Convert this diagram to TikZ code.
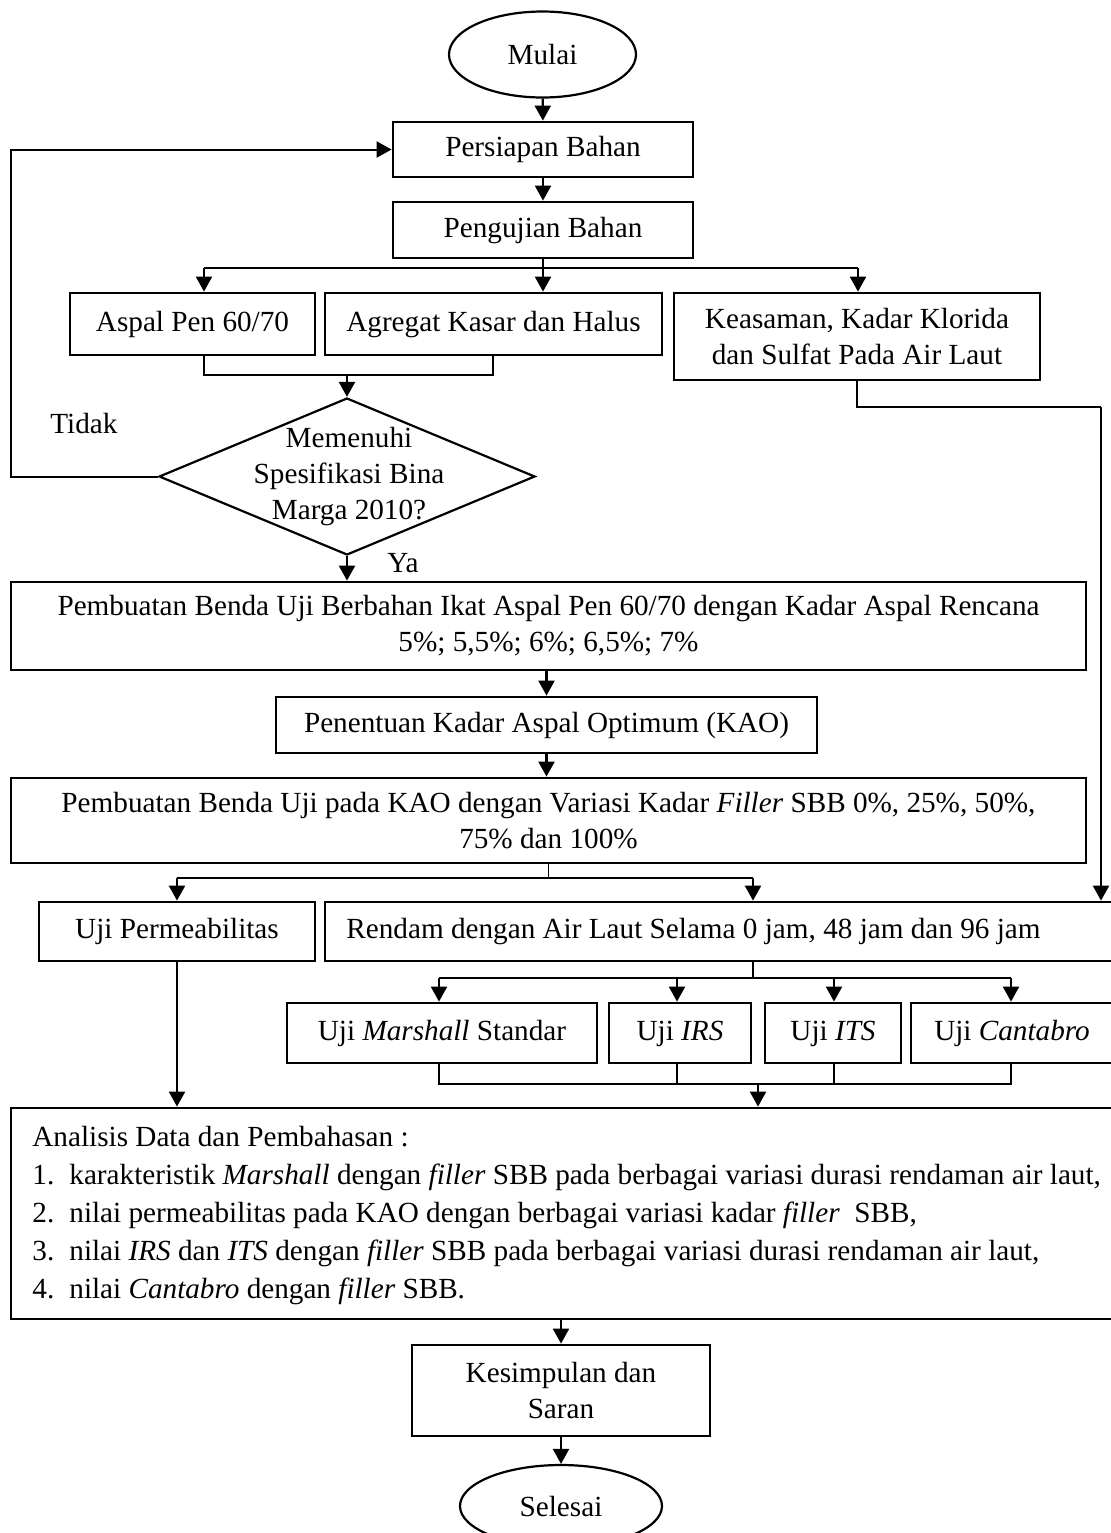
\documentclass[tikz,border=0pt]{standalone}
\usepackage{fontspec}
\setmainfont{Liberation Serif}
\usetikzlibrary{arrows.meta,shapes.geometric}
\begin{document}
\begin{tikzpicture}[x=0.5pt,y=-0.5pt,
  font=\fontsize{14.6}{18}\selectfont,
  bx/.style={draw, line width=1.4pt, inner sep=0pt, align=center},
  sbx/.style={bx, text height=10.2pt, text depth=3.2pt},
  ell/.style={draw, ellipse, line width=1.1pt, inner sep=0pt},
  arr/.style={line width=1.1pt, -{Triangle[length=7.5pt,width=8pt]}},
  hline/.style={line width=0.6pt},
  lbl/.style={inner sep=0pt, anchor=base west}
]
\fill[white] (0,0) rectangle (1111,1533);
\useasboundingbox (0,0) rectangle (1111,1533);

% nodes
\node[ell, minimum width=93.5pt, minimum height=43pt] (mulai) at (542.5,54.5) {Mulai};
\node[sbx, minimum width=150pt, minimum height=27.5pt] (persiapan) at (543,149.5) {Persiapan Bahan};
\node[sbx, minimum width=150pt, minimum height=28pt] (pengujian) at (543,230) {Pengujian Bahan};
\node[sbx, minimum width=122.5pt, minimum height=31pt] (aspal) at (192.5,324) {Aspal Pen 60/70};
\node[sbx, minimum width=168.5pt, minimum height=31pt] (agregat) at (493.5,324) {Agregat Kasar dan Halus};
\node[bx, minimum width=183pt, minimum height=43.5pt] (keasaman) at (857,336.5) {Keasaman, Kadar Klorida\\dan Sulfat Pada Air Laut};
\node[draw, diamond, line width=1.1pt, inner sep=0pt, minimum width=188pt, minimum height=78.5pt] (dia) at (347,476.5) {};
\node[inner sep=0pt, align=center] (diatext) at (349,477) {Memenuhi\\Spesifikasi Bina\\Marga 2010?};
\node[lbl] (tidak) at (50,433) {Tidak};
\node[lbl] (ya) at (387,572) {Ya};
\node[bx, minimum width=537.5pt, minimum height=44pt] (pemb1) at (548.5,626) {Pembuatan Benda Uji Berbahan Ikat Aspal Pen 60/70 dengan Kadar Aspal Rencana\\5\%; 5,5\%; 6\%; 6,5\%; 7\%};
\node[sbx, minimum width=270.5pt, minimum height=28pt] (penentuan) at (546.5,725) {Penentuan Kadar Aspal Optimum (KAO)};
\node[bx, minimum width=537.5pt, minimum height=42.5pt] (pemb2) at (548.5,820.5) {Pembuatan Benda Uji pada KAO dengan Variasi Kadar \textit{Filler} SBB 0\%, 25\%, 50\%,\\75\% dan 100\%};
\node[sbx, minimum width=138pt, minimum height=29.5pt] (ujiperm) at (177,931.5) {Uji Permeabilitas};
\node[bx, minimum width=394pt, minimum height=29.5pt] (rendam) at (719,931.5) {};
\node[lbl] (rendamtext) at (346,938) {Rendam dengan Air Laut Selama 0 jam, 48 jam dan 96 jam};
\node[sbx, minimum width=155pt, minimum height=30pt] (marshall) at (442,1033) {Uji \textit{Marshall} Standar};
\node[sbx, minimum width=71pt, minimum height=30pt] (irs) at (680,1033) {Uji \textit{IRS}};
\node[sbx, minimum width=68pt, minimum height=30pt] (its) at (833,1033) {Uji \textit{ITS}};
\node[sbx, minimum width=101pt, minimum height=30pt] (cantabro) at (1012,1033) {Uji \textit{Cantabro}};
\node[bx, minimum width=551.5pt, minimum height=105.5pt] (analisis) at (562.5,1213.5) {};
\node[lbl] (an0) at (32,1146) {Analisis Data dan Pembahasan :};
\node[lbl] (n1) at (32,1184) {1.};
\node[lbl] (t1) at (69,1184) {karakteristik \textit{Marshall} dengan \textit{filler} SBB pada berbagai variasi durasi rendaman air laut,};
\node[lbl] (n2) at (32,1222) {2.};
\node[lbl] (t2) at (69,1222) {nilai permeabilitas pada KAO dengan berbagai variasi kadar \textit{filler}~ SBB,};
\node[lbl] (n3) at (32,1260) {3.};
\node[lbl] (t3) at (69,1260) {nilai \textit{IRS} dan \textit{ITS} dengan \textit{filler} SBB pada berbagai variasi durasi rendaman air laut,};
\node[lbl] (n4) at (32,1298) {4.};
\node[lbl] (t4) at (69,1298) {nilai \textit{Cantabro} dengan \textit{filler} SBB.};
\node[bx, minimum width=149pt, minimum height=45.5pt] (kesimpulan) at (561,1390.5) {Kesimpulan dan\\Saran};
\node[ell, minimum width=101pt, minimum height=41pt] (selesai) at (561,1506) {Selesai};

% coordinates
\coordinate (aL) at (204,268);
\coordinate (aR) at (858,268);
\coordinate (c1) at (204,375);
\coordinate (c2) at (493,375);
\coordinate (lp) at (11,300);
\coordinate (dL) at (177,878);
\coordinate (dR) at (753,878);
\coordinate (e1) at (1101,407);
\coordinate (f0) at (753,978);
\coordinate (f1) at (439,978);
\coordinate (f2) at (677,978);
\coordinate (f3) at (834,978);
\coordinate (f4) at (1011,978);
\coordinate (g1) at (439,1084);
\coordinate (g2) at (677,1084);
\coordinate (g3) at (834,1084);
\coordinate (g4) at (1011,1084);
\coordinate (g0) at (758,1084);

% connectors
\draw[arr] (mulai) -- (persiapan);
\draw[arr] (persiapan) -- (pengujian);
\draw[hline] (aL) -- (aR);
\draw[arr] (pengujian.south) -- (pengujian.south |- agregat.north);
\draw[arr] (aL) -- (aL |- aspal.north);
\draw[arr] (aR) -- (aR |- keasaman.north);
\draw[hline] (c1 |- aspal.south) -- (c1) -- (c2) -- (c2 |- agregat.south);
\draw[arr] (dia.north |- c1) -- (dia.north);
\draw[arr, line width=1pt] (dia.west) -| (lp) |- (persiapan.west);
\draw[arr] (dia.south) -- (dia.south |- pemb1.north);
\draw[arr] (penentuan.north |- pemb1.south) -- (penentuan.north);
\draw[arr] (penentuan.south) -- (penentuan.south |- pemb2.north);
\draw[hline] (pemb2.south) -- (pemb2.south |- dL);
\draw[line width=0.8pt] (dL) -- (dR);
\draw[arr] (dL) -- (dL |- ujiperm.north);
\draw[arr] (dR) -- (dR |- rendam.north);
\draw[hline] (keasaman.south) |- (e1);
\draw[arr] (e1) -- (e1 |- rendam.north);
\draw[hline] (f0 |- rendam.south) -- (f0);
\draw[line width=0.8pt] (f1) -- (f4);
\draw[arr] (f1) -- (f1 |- marshall.north);
\draw[arr] (f2) -- (f2 |- irs.north);
\draw[arr] (f3) -- (f3 |- its.north);
\draw[arr] (f4) -- (f4 |- cantabro.north);
\draw[hline] (g1 |- marshall.south) -- (g1) -- (g4) -- (g4 |- cantabro.south);
\draw[hline] (g2 |- irs.south) -- (g2);
\draw[hline] (g3 |- its.south) -- (g3);
\draw[arr] (g0) -- (g0 |- analisis.north);
\draw[arr] (ujiperm.south) -- (ujiperm.south |- analisis.north);
\draw[arr] (kesimpulan.north |- analisis.south) -- (kesimpulan.north);
\draw[arr] (kesimpulan) -- (selesai);
\end{tikzpicture}
\end{document}
